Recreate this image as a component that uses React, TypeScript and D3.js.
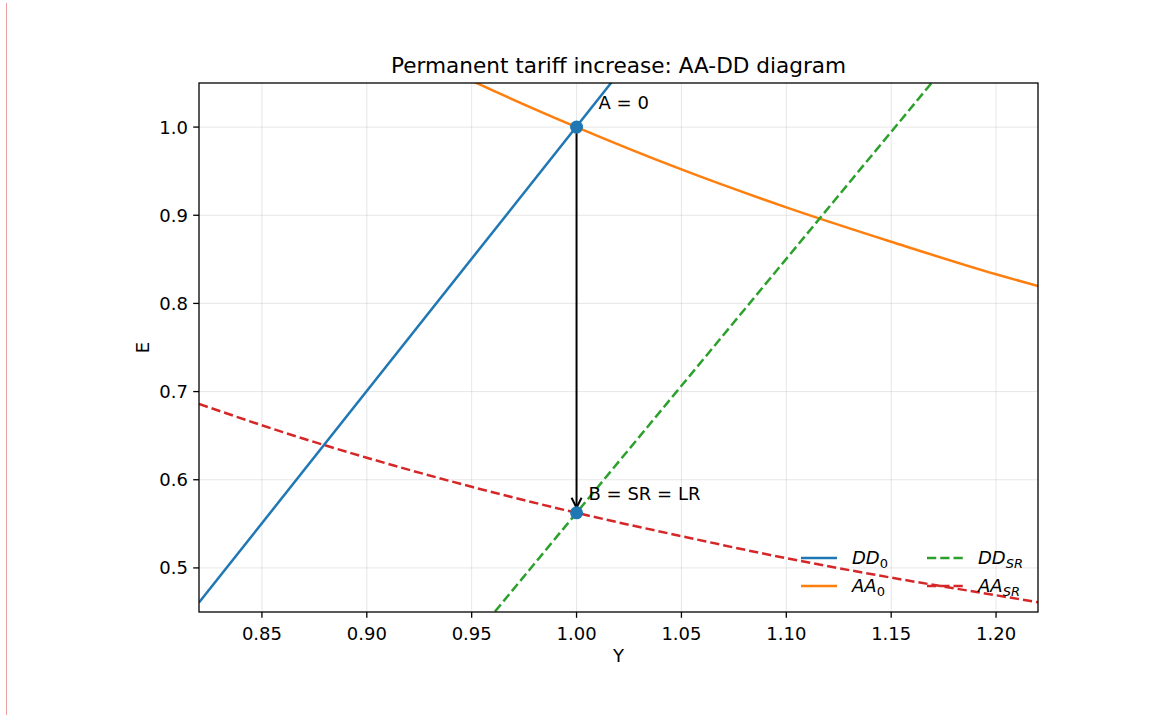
import * as d3 from 'd3'

// Curve samples (Y -> E)
const yGrid = [0.82, 0.86, 0.9, 0.95, 1.0, 1.05, 1.1, 1.15, 1.2, 1.22]
const aa0 = [1.2195, 1.163, 1.111, 1.0526, 1.0, 0.952, 0.909, 0.87, 0.833, 0.8197]
const aaSR = [0.686, 0.654, 0.625, 0.592, 0.5625, 0.536, 0.511, 0.489, 0.469, 0.461]

// Straight DD schedules, endpoints at the axes edges
const dd0Y = [0.82, 1.03]
const dd0E = [0.4607, 1.0907]
const ddSRY = [0.9611, 1.1695]
const ddSRE = [0.4505, 1.0507]

const pointA = { y: 1.0, e: 1.0, label: 'A = 0' }
const pointB = { y: 1.0, e: 0.5625, label: 'B = SR = LR' }

const xTicks = [0.85, 0.9, 0.95, 1.0, 1.05, 1.1, 1.15, 1.2]
const yTicks = [0.5, 0.6, 0.7, 0.8, 0.9, 1.0]

const W = 1162
const H = 715
const M = { left: 199, right: 1038, top: 83, bottom: 612 }
const FONT = 'DejaVu Sans, sans-serif'
const FS = 18

const C = { blue: '#1f77b4', orange: '#ff7f0e', green: '#2ca02c', red: '#d62728' }

function Sub({ main, sub }: { main: string; sub: string }) {
  return (
    <>
      <tspan fontStyle="italic">{main}</tspan>
      <tspan fontStyle={sub === '0' ? 'normal' : 'italic'} fontSize={13} dy={4}>{sub}</tspan>
    </>
  )
}

export default function App() {
  const x = d3.scaleLinear().domain([0.82, 1.22]).range([M.left, M.right])
  const y = d3.scaleLinear().domain([0.45, 1.05]).range([M.bottom, M.top])

  const curve = d3.line<number>()
    .x((_, i) => x(yGrid[i]))
    .y(d => y(d))
    .curve(d3.curveMonotoneX)

  const straight = (ys: number[], es: number[]) =>
    d3.line<number>().x((_, i) => x(ys[i])).y(d => y(d))(es) || ''

  const dash = '9.25,4'
  const lw = 2.5

  const ax = x(pointA.y)
  const ayTop = y(pointA.e)
  const byTip = y(pointB.e) - 5

  const legend = [
    { main: 'DD', sub: '0', color: C.blue, dashed: false, col: 0, row: 0 },
    { main: 'AA', sub: '0', color: C.orange, dashed: false, col: 0, row: 1 },
    { main: 'DD', sub: 'SR', color: C.green, dashed: true, col: 1, row: 0 },
    { main: 'AA', sub: 'SR', color: C.red, dashed: true, col: 1, row: 1 },
  ]

  return (
    <svg width={W} height={H} style={{ position: 'absolute', left: 0, top: 0, background: '#fff' }}
      fontFamily={FONT}>
      <line x1={6.5} x2={6.5} y1={3} y2={H} stroke="#eaa0a0" strokeWidth={1} />
      <defs>
        <clipPath id="plot">
          <rect x={M.left} y={M.top} width={M.right - M.left} height={M.bottom - M.top} />
        </clipPath>
      </defs>

      {/* grid */}
      <g stroke="#b0b0b0" strokeOpacity={0.3} strokeWidth={1}>
        {xTicks.map(t => <line key={'gx' + t} x1={x(t)} x2={x(t)} y1={M.top} y2={M.bottom} />)}
        {yTicks.map(t => <line key={'gy' + t} x1={M.left} x2={M.right} y1={y(t)} y2={y(t)} />)}
      </g>

      <g clipPath="url(#plot)" fill="none" strokeWidth={lw}>
        <path d={straight(dd0Y, dd0E)} stroke={C.blue} />
        <path d={curve(aa0) || ''} stroke={C.orange} />
        <path d={straight(ddSRY, ddSRE)} stroke={C.green} strokeDasharray={dash} />
        <path d={curve(aaSR) || ''} stroke={C.red} strokeDasharray={dash} />
      </g>

      {/* arrow A -> B */}
      <line x1={ax} x2={ax} y1={ayTop} y2={byTip} stroke="#000" strokeWidth={2} />
      <path d={`M${ax - 5},${byTip - 10} L${ax},${byTip} L${ax + 5},${byTip - 10}`}
        fill="none" stroke="#000" strokeWidth={2} />

      {[pointA, pointB].map(p => (
        <circle key={p.label} cx={x(p.y)} cy={y(p.e)} r={6.5} fill={C.blue} />
      ))}
      <text x={x(pointA.y) + 22} y={y(pointA.e) - 18} fontSize={FS}>{pointA.label}</text>
      <text x={x(pointB.y) + 12} y={y(pointB.e) - 13} fontSize={FS}>{pointB.label}</text>

      {/* frame */}
      <rect x={M.left} y={M.top} width={M.right - M.left} height={M.bottom - M.top}
        fill="none" stroke="#000" strokeWidth={1.3} />

      {/* ticks */}
      <g fontSize={FS} fill="#000">
        {xTicks.map(t => (
          <g key={'tx' + t}>
            <line x1={x(t)} x2={x(t)} y1={M.bottom} y2={M.bottom + 5.8} stroke="#000" strokeWidth={1.3} />
            <text x={x(t)} y={M.bottom + 28} textAnchor="middle">{t.toFixed(2)}</text>
          </g>
        ))}
        {yTicks.map(t => (
          <g key={'ty' + t}>
            <line x1={M.left - 5.8} x2={M.left} y1={y(t)} y2={y(t)} stroke="#000" strokeWidth={1.3} />
            <text x={M.left - 11} y={y(t) + 6.5} textAnchor="end">{t.toFixed(1)}</text>
          </g>
        ))}
      </g>

      <text x={(M.left + M.right) / 2} y={662} fontSize={FS} textAnchor="middle">Y</text>
      <text transform={`translate(149,${(M.top + M.bottom) / 2}) rotate(-90)`} fontSize={FS}
        textAnchor="middle">E</text>
      <text x={(M.left + M.right) / 2} y={73} fontSize={21.6} textAnchor="middle">
        Permanent tariff increase: AA-DD diagram
      </text>

      {/* legend */}
      <g fontSize={FS}>
        {legend.map(l => {
          const lx = l.col === 0 ? 801 : 927
          const ly = l.row === 0 ? 558 : 586
          return (
            <g key={l.main + l.sub}>
              <line x1={lx} x2={lx + 36} y1={ly} y2={ly} stroke={l.color} strokeWidth={lw}
                strokeDasharray={l.dashed ? dash : undefined} />
              <text x={lx + 51} y={ly + 6}><Sub main={l.main} sub={l.sub} /></text>
            </g>
          )
        })}
      </g>
    </svg>
  )
}
